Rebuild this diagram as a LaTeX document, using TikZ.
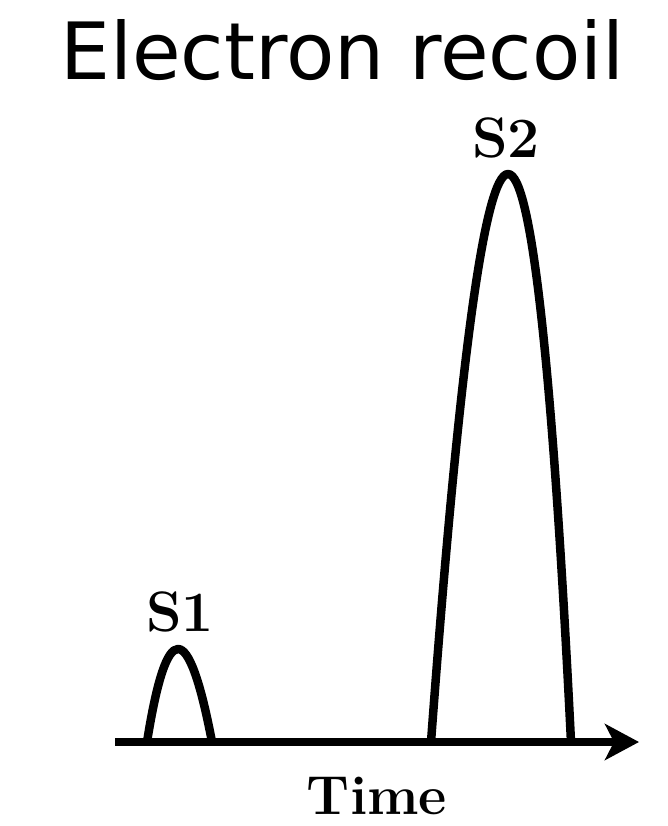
\documentclass[tikz,border=0pt]{standalone}
\usepackage{fontspec}
\newfontfamily\titlefont{DejaVu Sans}
\usetikzlibrary{arrows.meta}
\begin{document}
\begin{tikzpicture}[x=1pt,y=-1pt,
  pulse/.style={line width=8.5pt, line join=round, line cap=butt},
  axisline/.style={line width=8.5pt, -{Stealth[length=34pt,width=36pt,inset=9pt]}},
  lab/.style={font=\fontsize{57}{60}\selectfont\bfseries, inner sep=0pt, anchor=base},
  ttl/.style={font=\titlefont\fontsize{79}{90}\selectfont, inner sep=0pt, anchor=base}]
\useasboundingbox (0,0) rectangle (667,826);
\node[ttl] (title) at (342.5,80) {Electron recoil};
\coordinate (axstart) at (115,742);
\coordinate (axend) at (639,742);
\coordinate (s1l) at (147,742);
\coordinate (s1r) at (212,742);
\coordinate (s2l) at (431,742);
\coordinate (s2r) at (571,742);
\draw[pulse] (s1l) .. controls (166.7,618) and (188.3,618) .. (s1r);
\draw[pulse] (s2l) .. controls (487,-15.3) and (533.7,-15.3) .. (s2r);
\draw[axisline] (axstart) -- (axend);
\node[lab] (s1) at (180,631) {S1};
\node[lab] (s2) at (506,158) {S2};
\node[lab, font=\fontsize{55}{58}\selectfont\bfseries] (time) at (377,814) {Time};
\end{tikzpicture}
\end{document}
